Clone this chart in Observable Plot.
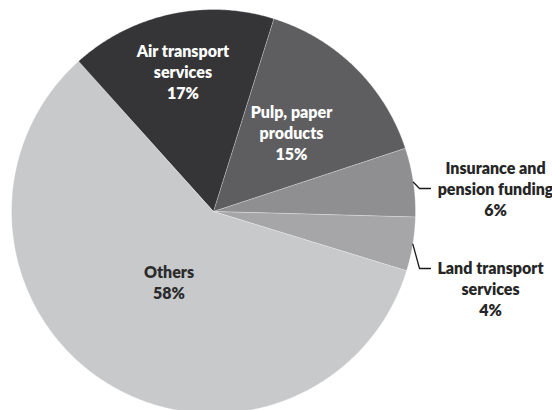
<!DOCTYPE html>
<html>
<head>
<meta charset="utf-8">
<script src="https://cdn.jsdelivr.net/npm/d3@7"></script>
<script src="https://cdn.jsdelivr.net/npm/@observablehq/plot@0.6"></script>
<style>
  html, body { margin: 0; padding: 0; background: #fff; }
  #chart svg { display: block; }
</style>
</head>
<body>
<div id="chart"></div>
<script>
// ---- data ----
const categories = ["Air transport services", "Pulp, paper products", "Insurance and pension funding", "Land transport services", "Others"];
const labelLines = ["Air transport\nservices", "Pulp, paper\nproducts", "Insurance and\npension funding", "Land transport\nservices", "Others"];
const shares = [16.5, 15.1, 5.5, 4.3, 58.6];        // slice sizes
const percentLabels = ["17%", "15%", "6%", "4%", "58%"];
const colors = ["#353436", "#5e5e60", "#8f8f91", "#a6a6a8", "#c8c9cb"];

// ---- layout ----
const W = 552, H = 410;
const CX = 213, CY = 211, R = 202;           // pie centre/radius in pixels
const startDeg = -42;
const toX = px => (px - CX) / R, toY = py => (CY - py) / R;

const data = categories.map((name, i) => ({name, value: shares[i], i}));
const arcs = d3.pie().sort(null).value(d => d.value)
  .startAngle(startDeg * Math.PI / 180)
  .endAngle(startDeg * Math.PI / 180 + 2 * Math.PI)(data);

// slice polygons
const slicePts = [];
for (const a of arcs) {
  const name = a.data.name;
  slicePts.push({name, x: 0, y: 0});
  const n = Math.max(2, Math.ceil((a.endAngle - a.startAngle) / (Math.PI / 360)));
  for (let k = 0; k <= n; k++) {
    const t = a.startAngle + (a.endAngle - a.startAngle) * k / n;
    slicePts.push({name, x: Math.sin(t), y: Math.cos(t)});
  }
}

// inside labels at a fraction of radius along the slice mid-angle
const insideR = {0: 0.71, 1: 0.55, 4: 0.41};
const labels = [];
arcs.forEach((a, i) => {
  const mid = (a.startAngle + a.endAngle) / 2;
  if (insideR[i] !== undefined) {
    labels.push({text: labelLines[i] + "\n" + percentLabels[i], x: insideR[i] * Math.sin(mid), y: insideR[i] * Math.cos(mid), fill: i < 2 ? "#ffffff" : "#2b2b2b"});
  }
});
// outside labels with leader lines
const outside = [
  {i: 2, tx: 495, ty: 188, lineY: 188},
  {i: 3, tx: 490, ty: 288, lineY: 268}
];
const leaders = [];
outside.forEach(o => {
  const a = arcs[o.i];
  const mid = (a.startAngle + a.endAngle) / 2;
  labels.push({text: labelLines[o.i] + "\n" + percentLabels[o.i], x: toX(o.tx), y: toY(o.ty), fill: "#262626"});
  const sx = 1.0 * Math.sin(mid), sy = 1.0 * Math.cos(mid);
  leaders.push({k: o.i, x: sx, y: sy});
  leaders.push({k: o.i, x: toX(430 - 11), y: toY(o.lineY)});
  leaders.push({k: o.i, x: toX(430), y: toY(o.lineY)});
});

const chart = Plot.plot({
  width: W, height: H,
  margin: 0,
  x: {domain: [toX(0), toX(W)], range: [0, W], axis: null},
  y: {domain: [toY(H), toY(0)], range: [H, 0], axis: null},
  color: {type: "ordinal", domain: categories, range: colors},
  style: {background: "#fff", fontFamily: "Lato, 'Open Sans', sans-serif"},
  marks: [
    Plot.line(slicePts, {x: "x", y: "y", z: "name", fill: "name", stroke: "#ffffff", strokeOpacity: 0.5, strokeWidth: 0.6, curve: "linear-closed"}),
    Plot.line(leaders, {x: "x", y: "y", z: "k", stroke: "#1a1a1a", strokeWidth: 1.3}),
    Plot.text(labels, {x: "x", y: "y", text: "text", fill: d => d.fill, fontSize: 16, fontWeight: 800, lineHeight: 1.32, textAnchor: "middle", lineAnchor: "middle"})
  ]
});
document.getElementById("chart").appendChild(chart);
</script>
</body>
</html>
